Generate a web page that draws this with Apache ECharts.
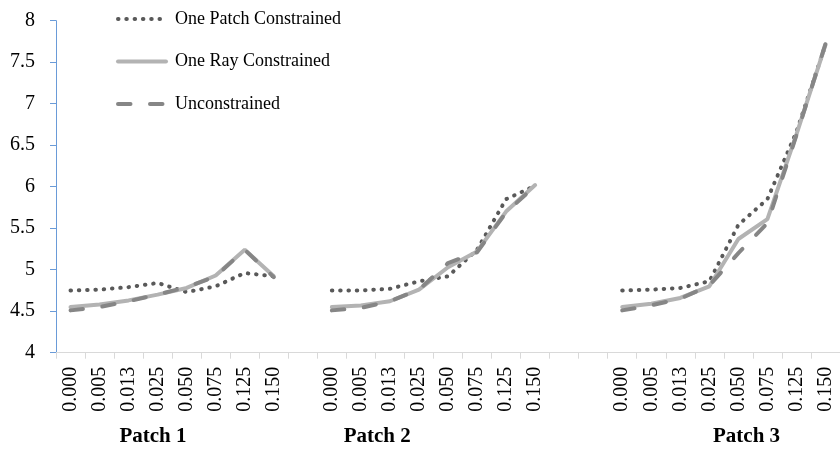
<!DOCTYPE html>
<html>
<head>
<meta charset="utf-8">
<script src="https://cdn.jsdelivr.net/npm/echarts@6/dist/echarts.min.js"></script>
<style>
html,body{margin:0;padding:0;background:#fff;}
#chart{width:840px;height:451px;}
</style>
</head>
<body>
<div id="chart"></div>
<script>
// ---- data ----
var tickLabels = ['0.000','0.005','0.013','0.025','0.050','0.075','0.125','0.150'];
var patchNames = ['Patch 1','Patch 2','Patch 3'];
var seriesNames = ['One Patch Constrained','One Ray Constrained','Unconstrained'];

var onePatchP1 = [4.75, 4.76, 4.79, 4.84, 4.73, 4.80, 4.96, 4.92];
var onePatchP2 = [4.75, 4.75, 4.77, 4.86, 4.92, 5.24, 5.85, 6.01];
var onePatchP3 = [4.75, 4.76, 4.78, 4.86, 5.54, 5.85, 6.66, 7.71];

var oneRayP1 = [4.55, 4.58, 4.63, 4.70, 4.78, 4.93, 5.24, 4.92];
var oneRayP2 = [4.55, 4.57, 4.62, 4.76, 5.03, 5.22, 5.70, 6.02];
var oneRayP3 = [4.55, 4.59, 4.66, 4.80, 5.37, 5.61, 6.63, 7.71];

var unconP1 = [4.51, 4.55, 4.62, 4.70, 4.79, 4.92, 5.24, 4.91];
var unconP2 = [4.51, 4.54, 4.62, 4.76, 5.08, 5.21, 5.69, 6.01];
var unconP3 = [4.51, 4.57, 4.65, 4.81, 5.20, 5.56, 6.62, 7.72];

// empty categories between the patch groups
var gapAfter = [1, 2, 0];

// ---- build category axis with gaps ----
function build(groups) {
  var out = [];
  groups.forEach(function (g, i) {
    out = out.concat(g);
    for (var k = 0; k < gapAfter[i]; k++) out.push(null);
  });
  return out;
}
var categories = build([tickLabels, tickLabels, tickLabels])
  .map(function (c) { return c === null ? '' : c; });

var onePatch = build([onePatchP1, onePatchP2, onePatchP3]);
var oneRay = build([oneRayP1, oneRayP2, oneRayP3]);
var uncon = build([unconP1, unconP2, unconP3]);

var FONT = "'Liberation Serif', serif";
var chart = echarts.init(document.getElementById('chart'));

var gridLeft = 56, gridTop = 20.7, gridHeight = 332, catW = 29.2;
var gridWidth = catW * categories.length;

// patch label centre positions (in category units from the grid left)
var patchCenters = [3.32, 11.0, 23.65];

var styles = [
  { color: '#595959', width: 4, type: [0.5, 7.8], cap: 'round' },
  { color: '#b3b3b3', width: 4, type: 'solid', cap: 'round' },
  { color: '#868686', width: 4, type: [12.5, 19.5], cap: 'round' }
];

chart.setOption({
  animation: false,
  backgroundColor: '#ffffff',
  legend: {
    orient: 'vertical',
    left: 116,
    top: 10,
    itemWidth: 48,
    itemHeight: 20,
    itemGap: 24.5,
    padding: 0,
    itemStyle: { opacity: 0 },
    textStyle: { fontFamily: FONT, fontSize: 18, color: '#000', padding: [0, 0, 0, 4] },
    data: seriesNames.map(function (n, i) {
      return { name: n, lineStyle: styles[i], itemStyle: { opacity: 0 } };
    })
  },
  grid: { left: gridLeft, top: gridTop, width: gridWidth, height: gridHeight, containLabel: false },
  xAxis: {
    type: 'category',
    data: categories,
    boundaryGap: true,
    axisLine: { lineStyle: { color: '#d9d9d9', width: 1 } },
    axisTick: { show: true, length: 6, lineStyle: { color: '#d9d9d9' }, interval: 0 },
    axisLabel: { interval: 0, rotate: 90, margin: 14, fontFamily: FONT, fontSize: 20, color: '#000' },
    splitLine: { show: false }
  },
  yAxis: {
    type: 'value',
    min: 4, max: 8, interval: 0.5,
    axisLine: { show: true, lineStyle: { color: '#6a9bd8', width: 1 } },
    axisTick: { show: true, length: 6, lineStyle: { color: '#6a9bd8' } },
    axisLabel: { margin: 21, fontFamily: FONT, fontSize: 20, color: '#000' },
    splitLine: { show: false }
  },
  graphic: patchNames.map(function (n, i) {
    return {
      type: 'text',
      x: gridLeft + patchCenters[i] * catW,
      y: 437,
      style: {
        text: n,
        font: "bold 21px 'Liberation Serif', serif",
        fill: '#000',
        align: 'center', verticalAlign: 'middle'
      }
    };
  }),
  series: seriesNames.map(function (n, i) {
    return {
      name: n, type: 'line', data: [onePatch, oneRay, uncon][i],
      symbol: 'none', connectNulls: false,
      lineStyle: styles[i],
      itemStyle: { color: styles[i].color }, z: 2 + i
    };
  })
});
</script>
</body>
</html>
